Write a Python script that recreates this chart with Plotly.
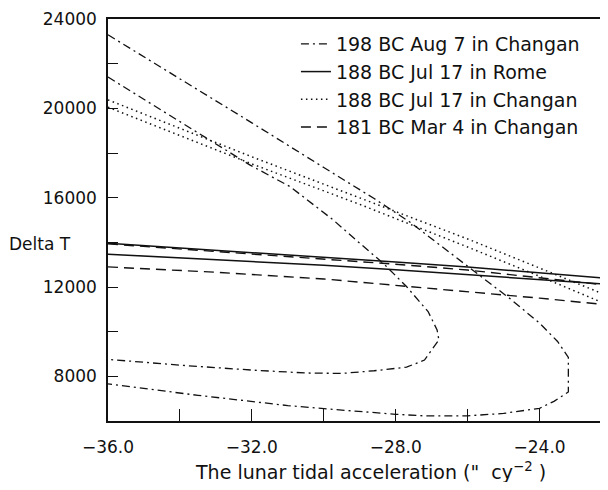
import plotly.graph_objects as go

# ---- data ----
# 198 BC Aug 7 in Changan : two closed-ish branches (outer and inner loop)
dd_outer_x = [-36, -34, -32, -30, -28.6, -27.6, -26.5, -25.5, -24.8, -24.0, -23.5, -23.2,
              -23.2, -23.6, -24.0, -25.0, -26.0, -27.2, -28.0, -29.5, -31.0, -33.5, -36]
dd_outer_y = [23290, 21330, 19350, 17350, 15960, 14900, 13560, 12340, 11450, 10380, 9560, 8850,
              7300, 6880, 6570, 6340, 6230, 6230, 6300, 6490, 6690, 7150, 7660]
dd_inner_x = [-36, -34, -32.06, -30.94, -29.74, -29.0, -28.35, -27.7, -27.1, -26.85, -26.8,
              -27.2, -27.7, -28.6, -29.5, -30.5, -32, -34, -36]
dd_inner_y = [21400, 19400, 17469, 16497, 15005, 13960, 13065, 12020, 10900, 10080, 9630,
              8730, 8410, 8250, 8130, 8150, 8280, 8500, 8760]

# 188 BC Jul 17 in Rome : two solid lines
rome_x = [-36, -33, -30, -28, -26, -24, -22.1]
rome_top = [13960, 13650, 13340, 13120, 12890, 12640, 12390]
rome_bot = [13470, 13230, 12970, 12770, 12550, 12340, 12120]

# 188 BC Jul 17 in Changan : two dotted lines
chg188_x = [-36, -32, -29, -26, -24, -22.1]
chg188_top = [20380, 17830, 15990, 14150, 12850, 11600]
chg188_bot = [20050, 17510, 15700, 13790, 12480, 11200]

# 181 BC Mar 4 in Changan : two dashed lines
chg181_x = [-36, -33, -30, -28, -26, -24, -22.1]
chg181_top = [13930, 13600, 13260, 13020, 12760, 12430, 12080]
chg181_bot = [12900, 12660, 12360, 12080, 11800, 11500, 11200]

names = ["198 BC Aug 7 in Changan", "188 BC Jul 17 in Rome",
         "188 BC Jul 17 in Changan", "181 BC Mar 4 in Changan"]

x_ticks = [-36, -32, -28, -24]
y_ticks = [8000, 12000, 16000, 20000, 24000]

FONT = "DejaVu Sans"
INK = "#111111"


def join(xa, ya, xb, yb):
    return list(xa) + [None] + list(xb), list(ya) + [None] + list(yb)


fig = go.Figure()

x, y = join(dd_outer_x, dd_outer_y, dd_inner_x, dd_inner_y)
fig.add_trace(go.Scatter(x=x, y=y, mode="lines", name=names[0],
                         line=dict(color=INK, width=1.3, dash="8px,4px,2px,4px")))
x, y = join(rome_x, rome_top, rome_x, rome_bot)
fig.add_trace(go.Scatter(x=x, y=y, mode="lines", name=names[1],
                         line=dict(color=INK, width=1.5)))
x, y = join(chg188_x, chg188_top, chg188_x, chg188_bot)
fig.add_trace(go.Scatter(x=x, y=y, mode="lines", name=names[2],
                         line=dict(color=INK, width=1.5, dash="1.5px,3.5px")))
x, y = join(chg181_x, chg181_top, chg181_x, chg181_bot)
fig.add_trace(go.Scatter(x=x, y=y, mode="lines", name=names[3],
                         line=dict(color=INK, width=1.4, dash="10px,6px")))

fig.update_layout(
    width=592, height=474,
    margin=dict(l=100, r=0, t=11, b=61, autoexpand=False),
    paper_bgcolor="white", plot_bgcolor="white",
    font=dict(family=FONT, size=17, color=INK),
    showlegend=True,
    legend=dict(x=0.382, y=0.985, xanchor="left", yanchor="top",
                bgcolor="rgba(0,0,0,0)", borderwidth=0,
                font=dict(family=FONT, size=19, color=INK),
                tracegroupgap=0),
    annotations=[
        dict(text="Delta T", xref="paper", yref="paper", x=-0.205, y=0.44,
             xanchor="left", yanchor="middle", showarrow=False,
             font=dict(family=FONT, size=17, color=INK)),
        dict(text="The lunar tidal acceleration (\"  cy<sup>\u22122</sup> )",
             xref="paper", yref="paper", x=0.533, y=-0.124,
             xanchor="center", yanchor="middle", showarrow=False,
             font=dict(family=FONT, size=19, color=INK)),
    ],
)

fig.update_xaxes(range=[-36, -22.32], tickvals=x_ticks, tickformat=".1f",
                 ticks="inside", ticklen=12, tickwidth=1.2, tickcolor=INK,
                 minor=dict(ticks="inside", ticklen=12, tickwidth=1.2, tickcolor=INK, dtick=2, tick0=-36),
                 showline=True, linecolor=INK, linewidth=1.5, mirror=True,
                 showgrid=False, zeroline=False, ticklabelstandoff=10, automargin=False,
                 tickfont=dict(family=FONT, size=17, color=INK))
fig.update_yaxes(range=[6000, 24000], tickvals=y_ticks, tickformat="d",
                 ticks="inside", ticklen=10, tickwidth=1.2, tickcolor=INK,
                 minor=dict(ticks="inside", ticklen=10, tickwidth=1.2, tickcolor=INK, dtick=2000, tick0=6000),
                 showline=True, linecolor=INK, linewidth=1.5, mirror=False,
                 showgrid=False, zeroline=False, ticklabelstandoff=6, automargin=False,
                 tickfont=dict(family=FONT, size=17, color=INK))

fig.write_html("out.html")
